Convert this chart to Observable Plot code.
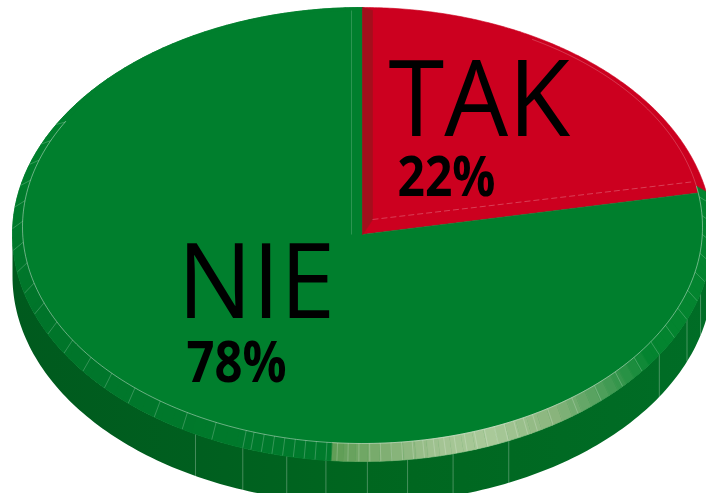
<!DOCTYPE html>
<html><head><meta charset="utf-8">
<script src="https://cdn.jsdelivr.net/npm/d3@7"></script>
<script src="https://cdn.jsdelivr.net/npm/@observablehq/plot@0.6"></script>
<style>body{margin:0;background:#fff}svg{display:block}</style>
</head><body><div id="chart"></div>
<script>
// ---- data ----
const categories = ["TAK", "NIE"];
const values = [22, 78];
const percentLabels = ["22%", "78%"];

// ---- styles / layout ----
const sliceColor = {TAK: "#cc001f", NIE: "#007f2d"};
const W = 706, H = 493;
const cx = 362, cy = 234, rx = 350, ry = 227, depth = 42;     // outer rim
const icx = 362, icy = 226.5, irx = 340, iry = 216.5;          // inner (bevel) rim
const nameLayout = [{x: 388, y: 135, size: 107}, {x: 177, y: 317, size: 105}];
const pctLayout = [{x: 397, y: 195, size: 56, len: 98}, {x: 186, y: 381, size: 57, len: 100}];
const nameSqueeze = 0.945;
const sideSeams = [105, 112, 122, 155.3, 165, 172.6, 179.2, 186, 192.5, 200, 208.5];
const sideGradStops = [[0, "#005a1e"], [0.27, "#005f1f"], [0.5, "#00661f"], [1, "#006d26"]];

const total = d3.sum(values);
let acc = 0;
const slices = categories.map((c, i) => {
  const a0 = acc / total * 360; acc += values[i];
  return {cat: c, a0, a1: acc / total * 360};
});
const rad = d => d * Math.PI / 180;
const P = (phi, X = cx, Y = cy, RX = rx, RY = ry) => [X + RX * Math.sin(rad(phi)), Y - RY * Math.cos(rad(phi))];
const PI_ = phi => P(phi, icx, icy, irx, iry);
const poly = (id, pts, c) => pts.map(([x, y]) => ({id, x, y, c}));

// top faces
const topPts = [];
slices.forEach(s => {
  const pts = [[cx, cy]];
  for (let a = s.a0; a < s.a1; a += 0.5) pts.push(P(a));
  pts.push(P(s.a1));
  topPts.push(...poly("top-" + s.cat, pts, sliceColor[s.cat]));
});

// side wall (visible front half) as one outline
const sideTop = d3.range(90, 270.01, 1).map(a => P(a));
const sideOutline = [...sideTop, ...sideTop.slice().reverse().map(([x, y]) => [x, y + depth])].map(([x, y]) => ({x, y}));
const sideLines = sideSeams.map(a => { const p = P(a); return {x1: p[0], y1: p[1], x2: p[0], y2: p[1] + depth}; });

// bevel ring of the green slice
const green = slices[1];
const g = "#03842f";
const bevelColor = d3.scaleLinear()
  .domain([green.a0, 124, 146, 158, 167, 184.9, 185, 250, 290, 360])
  .range([g, g, "#88b47c", "#a9c999", "#a3c493", "#5e9c55", "#007b2c", "#00742a", "#007f2d", "#007f2d"]);
const bevelPts = [];
const bStep = 2;
for (let a = green.a0; a < green.a1; a += bStep) {
  const b = Math.min(a + bStep, green.a1);
  bevelPts.push(...poly("bev" + a, [P(a), P(b), PI_(b), PI_(a)], bevelColor((a + b) / 2)));
}
const bevelAngles = [...d3.range(82, 150, 5), ...d3.range(150, 200, 1.8), ...d3.range(200, 300, 5.5)];
const bevelLines = bevelAngles.map(a => { const o = P(a), i = PI_(a); return {x1: o[0], y1: o[1], x2: i[0], y2: i[1]}; });
const innerLine = d3.range(green.a0, 300, 1).map(a => { const p = PI_(a); return {x: p[0], y: p[1]}; });
const innerLineRed = d3.range(30, green.a0 + 0.5, 1).map(a => { const p = PI_(a); return {x: p[0], y: p[1]}; });

// dark bevel strip on the TAK slice's first radial edge
const red = slices[0];
const e0 = P(red.a0);
const stripPts = poly("strip", [[cx, cy], e0, [e0[0] + 10, e0[1] + 3], [cx + 10, cy - 15]], "#a30f1c");
const rEnd = P(red.a1 - 1.2, icx, icy, irx - 4, iry);
const redBevelLine = [{x1: cx + 10, y1: cy - 15, x2: rEnd[0], y2: rEnd[1]}];
const greenEdgeLine = [{x1: cx - 11, y1: e0[1] + 3, x2: cx - 11, y2: cy}];

const polyMark = (data) => Plot.line(data, {
  x: "x", y: "y", z: "id", fill: "c", stroke: "c", strokeWidth: 0.6, curve: "linear-closed"
});

const texts = categories.map((c, i) => ({name: c, pct: percentLabels[i], ...nameLayout[i], p: pctLayout[i]}));

const chart = Plot.plot({
  width: W, height: H, margin: 0,
  x: {domain: [0, W], range: [0, W], axis: null},
  y: {domain: [0, H], range: [0, H], axis: null},
  color: {type: "identity"},
  style: {background: "white"},
  marks: [
    Plot.line(sideOutline, {x: "x", y: "y", fill: "url(#sideGrad)", stroke: "none", curve: "linear-closed"}),
    Plot.link(sideLines, {x1: "x1", y1: "y1", x2: "x2", y2: "y2", stroke: "#ffffff", strokeOpacity: 0.35, strokeWidth: 0.8}),
    polyMark(topPts),
    polyMark(bevelPts),
    Plot.link(bevelLines, {x1: "x1", y1: "y1", x2: "x2", y2: "y2", stroke: "#ffffff", strokeOpacity: 0.3, strokeWidth: 0.7}),
    Plot.line(innerLine, {x: "x", y: "y", stroke: "#ffffff", strokeOpacity: 0.6, strokeWidth: 0.7}),
    Plot.line(innerLineRed, {x: "x", y: "y", stroke: "#ffffff", strokeOpacity: 0.3, strokeWidth: 0.7}),
    polyMark(stripPts),
    Plot.link(redBevelLine, {x1: "x1", y1: "y1", x2: "x2", y2: "y2", stroke: "#ffffff", strokeOpacity: 0.35, strokeWidth: 0.7, strokeDasharray: "6,3"}),
    Plot.link(greenEdgeLine, {x1: "x1", y1: "y1", x2: "x2", y2: "y2", stroke: "#ffffff", strokeOpacity: 0.25, strokeWidth: 0.7}),
    ...texts.map(t => Plot.text([t], {x: "x", y: "y", text: "name", textAnchor: "start", lineAnchor: "bottom",
      fontSize: t.size, fontFamily: "Open Sans", fill: "#000000"})),
    ...texts.map(t => Plot.text([t], {x: d => d.p.x, y: d => d.p.y, text: "pct", textAnchor: "start", lineAnchor: "bottom",
      fontSize: t.p.size, fontWeight: "bold", fontFamily: "Open Sans", fill: "#000000"}))
  ]
});
// gradient for the side wall
const defs = d3.select(chart).insert("defs", ":first-child");
const lg = defs.append("linearGradient").attr("id", "sideGrad").attr("gradientUnits", "userSpaceOnUse")
  .attr("x1", cx - rx).attr("x2", cx + rx).attr("y1", 0).attr("y2", 0);
sideGradStops.forEach(([o, c]) => lg.append("stop").attr("offset", o).attr("stop-color", c));
document.getElementById("chart").append(chart);
// condense the labels to their measured widths
chart.querySelectorAll("text").forEach(el => {
  const tp = texts.find(d => d.pct === el.textContent);
  if (tp) { el.setAttribute("textLength", tp.p.len); el.setAttribute("lengthAdjust", "spacingAndGlyphs"); return; }
  const tn = texts.find(d => d.name === el.textContent);
  if (tn) { el.setAttribute("textLength", el.getComputedTextLength() * nameSqueeze); el.setAttribute("lengthAdjust", "spacingAndGlyphs"); }
});
</script></body></html>
